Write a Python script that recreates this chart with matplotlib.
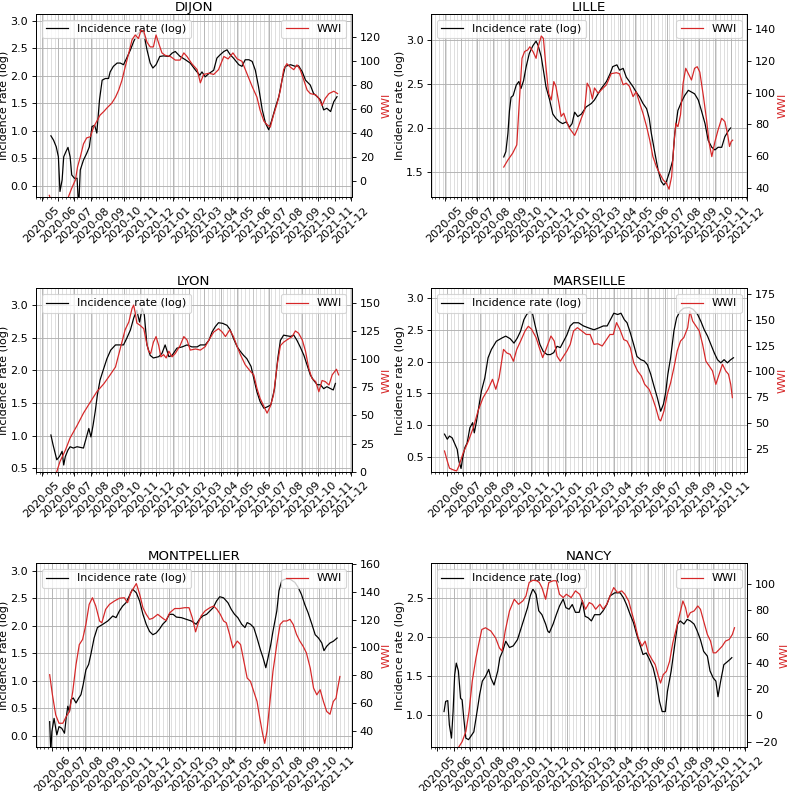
import matplotlib
matplotlib.use("Agg")
import matplotlib.pyplot as plt
import matplotlib.dates as mdates
from matplotlib.ticker import MaxNLocator
import pandas as pd

# day counts are relative to this date
START = pd.Timestamp("2020-05-01")

# %% DIJON
DIJON_INC_DAY = [17, 22, 27, 31, 34, 38, 41, 45, 49, 53, 56, 61, 66, 69, 72, 78, 84, 89, 94, 99,
                 103, 108, 113, 119, 125, 128, 134, 141, 147, 153, 159, 166, 172, 178, 184, 191, 197, 203, 208, 214,
                 221, 228, 238, 244, 250, 259, 269, 278, 288, 296, 300, 306, 313, 322, 328, 334, 341, 347, 353, 359,
                 369, 375, 381, 388, 394, 400, 406, 413, 419, 425, 431, 438, 444, 450, 456, 466, 475, 481, 488, 494,
                 503, 509, 516, 522, 528, 534, 541, 547, 553]
DIJON_INC = [0.91, 0.83, 0.71, 0.53, -0.1, 0.11, 0.53, 0.62, 0.70, 0.53, 0.2, 0.14, 0.14, -0.4, 0.29, 0.47, 0.59, 0.71, 1.08, 1.1,
             0.96, 1.56, 1.92, 1.95, 1.95, 2.07, 2.17, 2.23, 2.23, 2.2, 2.32, 2.47, 2.62, 2.74, 2.8, 2.77, 2.47, 2.23, 2.14, 2.2,
             2.35, 2.36, 2.35, 2.41, 2.44, 2.35, 2.29, 2.23, 2.1, 2.01, 2.07, 1.98, 2.04, 2.1, 2.32, 2.38, 2.44, 2.47, 2.38, 2.32,
             2.2, 2.17, 2.29, 2.29, 2.26, 2.1, 1.8, 1.38, 1.14, 1.02, 1.2, 1.44, 1.62, 1.92, 2.17, 2.2, 2.17, 2.18, 2.07, 1.92,
             1.83, 1.68, 1.62, 1.56, 1.38, 1.41, 1.35, 1.53, 1.62]
DIJON_WWI_DAY = [14, 17, 45, 50, 56, 63, 67, 72, 78, 84, 91, 97, 103, 109, 116, 122, 131, 138, 144, 150,
                 156, 163, 169, 175, 181, 186, 191, 197, 203, 209, 214, 219, 225, 231, 241, 250, 259, 266, 272, 281,
                 291, 297, 303, 313, 322, 331, 341, 349, 358, 366, 375, 384, 394, 403, 409, 416, 422, 428, 434, 441,
                 447, 453, 459, 466, 472, 478, 484, 491, 497, 503, 513, 519, 525, 531, 538, 547, 554]
DIJON_WWI = [-12, -16, -20, -13, -6, 1, 12, 20, 31, 36, 37, 45, 50, 55, 58, 61, 65, 70, 76, 84,
             95, 107, 118, 122, 119, 126, 125, 116, 112, 112, 122, 115, 107, 105, 104, 101, 101, 107, 104, 98,
             93, 82, 89, 90, 89, 93, 104, 102, 107, 102, 100, 90, 79, 70, 59, 50, 47, 45, 55, 65,
             76, 93, 98, 95, 93, 97, 93, 84, 76, 73, 72, 69, 63, 69, 73, 75, 73]

# %% LILLE
LILLE_INC_DAY = [113, 117, 121, 124, 127, 131, 137, 142, 146, 151, 156, 162, 169, 175, 179, 185, 189, 194, 201, 207,
                 213, 220, 226, 233, 239, 244, 249, 255, 262, 271, 281, 287, 294, 300, 310, 317, 322, 330, 335, 342,
                 348, 354, 361, 367, 374, 380, 387, 392, 396, 403, 409, 415, 420, 425, 432, 437, 441, 447, 454, 460,
                 467, 473, 479, 486, 492, 499, 505, 512, 518, 524, 531, 537, 544, 548]
LILLE_INC = [1.67, 1.73, 1.94, 2.2, 2.35, 2.37, 2.49, 2.53, 2.45, 2.54, 2.7, 2.85, 2.94, 2.99, 2.94, 2.81, 2.66, 2.47, 2.32, 2.16,
             2.11, 2.07, 2.05, 2.07, 2.01, 2.05, 2.18, 2.13, 2.16, 2.24, 2.28, 2.32, 2.39, 2.45, 2.53, 2.62, 2.70, 2.72, 2.66, 2.68,
             2.58, 2.53, 2.47, 2.41, 2.35, 2.28, 2.22, 2.11, 1.94, 1.71, 1.52, 1.39, 1.35, 1.39, 1.52, 1.63, 1.94, 2.2, 2.3, 2.37,
             2.43, 2.41, 2.39, 2.32, 2.2, 2.05, 1.86, 1.78, 1.75, 1.78, 1.78, 1.9, 1.97, 2.0]
LILLE_WWI_DAY = [113, 121, 130, 138, 143, 148, 153, 159, 163, 169, 175, 179, 185, 189, 194, 199, 204, 209, 213, 219,
                 223, 228, 233, 239, 249, 255, 262, 268, 273, 278, 283, 287, 294, 300, 310, 319, 329, 335, 342, 348,
                 354, 361, 367, 374, 380, 387, 393, 399, 406, 412, 419, 425, 430, 435, 439, 443, 447, 452, 457, 462,
                 467, 473, 479, 484, 489, 496, 502, 507, 512, 518, 524, 531, 537, 542, 546, 549, 552]
LILLE_WWI = [53, 57.5, 61.7, 67, 95, 121.7, 126, 127, 129, 126, 121.7, 129, 135.8, 134.3, 116, 99.6, 95.4, 107, 104, 93,
             85, 87, 82, 77.5, 73, 77.5, 84, 89, 106, 103, 96, 103, 99.6, 101.7, 105, 112, 112.6, 112, 105, 106,
             104, 97.5, 100.6, 93, 87, 78.5, 70, 59.6, 53, 49, 44.8, 42.7, 39, 47, 66, 80.6, 78.5, 86, 106, 115.4,
             112, 108, 115.4, 116.4, 113, 97.5, 82.7, 68, 59.6, 69, 76.4, 83.8, 81.7, 74.3, 66, 69, 70]

# %% LYON
LYON_INC_DAY = [17, 21, 25, 28, 33, 38, 41, 44, 49, 53, 59, 66, 72, 78, 83, 88, 92, 96, 100, 104,
                109, 116, 122, 129, 138, 147, 153, 159, 166, 172, 178, 183, 188, 192, 197, 203, 209, 219, 225, 231,
                238, 244, 253, 263, 272, 281, 291, 297, 306, 313, 319, 325, 331, 339, 347, 353, 359, 366, 372, 378,
                384, 392, 397, 403, 409, 416, 422, 429, 436, 442, 447, 453, 459, 466, 472, 478, 484, 491, 497, 503,
                509, 516, 522, 528, 534, 541, 546, 550]
LYON_INC = [1.01, 0.86, 0.73, 0.63, 0.68, 0.76, 0.55, 0.68, 0.78, 0.83, 0.81, 0.83, 0.82, 0.81, 0.96, 1.11, 0.98, 1.16, 1.37, 1.62,
            1.85, 2.03, 2.18, 2.31, 2.39, 2.39, 2.39, 2.49, 2.62, 2.8, 2.92, 2.74, 2.95, 2.85, 2.39, 2.23, 2.19, 2.21, 2.26, 2.39,
            2.21, 2.23, 2.34, 2.36, 2.39, 2.36, 2.36, 2.39, 2.39, 2.46, 2.59, 2.67, 2.73, 2.72, 2.69, 2.62, 2.49, 2.36, 2.29, 2.23,
            2.18, 2.06, 1.88, 1.67, 1.52, 1.42, 1.44, 1.47, 1.72, 2.18, 2.46, 2.54, 2.53, 2.52, 2.54, 2.46, 2.36, 2.23, 2.08, 1.93,
            1.85, 1.78, 1.78, 1.72, 1.75, 1.72, 1.7, 1.8]
LYON_WWI_DAY = [22, 28, 34, 44, 53, 66, 78, 91, 103, 116, 128, 138, 144, 150, 156, 163, 169, 172, 175, 178,
                184, 191, 196, 200, 204, 209, 214, 219, 223, 228, 233, 238, 244, 250, 259, 266, 272, 278, 288, 297,
                306, 313, 322, 331, 338, 344, 352, 359, 366, 372, 381, 391, 397, 403, 409, 416, 422, 428, 434, 441,
                447, 453, 459, 469, 475, 481, 488, 494, 500, 506, 513, 519, 525, 531, 538, 544, 552, 556]
LYON_WWI = [-5, 0, 9, 19, 30, 41, 52, 62, 71, 78, 86, 93, 104, 115, 126, 133, 145, 148, 141, 132,
            130, 127, 115, 107, 105, 115, 120, 112, 102, 104, 101, 107, 102, 105, 112, 120, 117, 108, 109, 108,
            111, 117, 124, 127, 124, 120, 126, 120, 111, 104, 95, 89, 86, 74, 65, 58, 52, 58, 68, 95,
            112, 115, 117, 120, 125, 123, 117, 107, 92, 83, 80, 71, 81, 80, 77, 86, 91, 86]

# %% MARSEILLE
MARS_INC_DAY = [27, 32, 36, 41, 46, 50, 53, 57, 60, 64, 68, 73, 78, 81, 85, 90, 94, 100, 106, 112,
                121, 131, 138, 146, 153, 159, 165, 171, 176, 182, 187, 191, 196, 200, 206, 213, 219, 225, 231, 237,
                243, 249, 255, 261, 270, 279, 288, 298, 307, 315, 322, 328, 334, 341, 347, 353, 358, 364, 370, 376,
                383, 389, 395, 401, 407, 413, 419, 424, 428, 432, 437, 443, 448, 454, 461, 471, 478, 486, 492, 498,
                504, 510, 516, 522, 528, 534, 540, 546, 551]
MARS_INC = [0.86, 0.78, 0.83, 0.80, 0.70, 0.62, 0.44, 0.32, 0.49, 0.65, 0.72, 0.96, 1.04, 0.88, 1.06, 1.33, 1.54, 1.74, 2.06, 2.19,
            2.32, 2.37, 2.40, 2.36, 2.29, 2.37, 2.48, 2.66, 2.74, 2.79, 2.74, 2.58, 2.40, 2.27, 2.16, 2.11, 2.11, 2.14, 2.24, 2.22,
            2.32, 2.42, 2.56, 2.61, 2.61, 2.56, 2.53, 2.50, 2.53, 2.56, 2.56, 2.66, 2.76, 2.74, 2.76, 2.66, 2.61, 2.45, 2.27, 2.08,
            2.03, 2.01, 1.95, 1.80, 1.61, 1.43, 1.22, 1.33, 1.51, 1.80, 2.06, 2.48, 2.69, 2.79, 2.84, 2.85, 2.82, 2.74, 2.63, 2.50,
            2.40, 2.27, 2.14, 2.03, 1.98, 2.03, 1.98, 2.03, 2.06]
MARS_WWI_DAY = [27, 32, 36, 43, 49, 53, 61, 70, 79, 88, 97, 106, 114, 120, 126, 134, 140, 146, 152, 158,
                165, 173, 179, 185, 193, 199, 205, 211, 220, 226, 231, 237, 243, 249, 255, 261, 268, 276, 284, 291,
                298, 305, 313, 319, 327, 333, 339, 345, 352, 358, 364, 370, 377, 384, 390, 398, 404, 410, 416, 419,
                425, 431, 437, 443, 449, 455, 461, 468, 472, 477, 483, 489, 495, 501, 507, 513, 519, 525, 531, 537,
                542, 546, 549]
MARS_WWI = [22.7, 13, 6, 4.3, 3.3, 8, 21, 32, 45, 62, 74.6, 82.7, 92.4, 82.7, 94, 121.5, 118, 116.7, 110, 121.5,
            129.6, 139.4, 144, 141, 133, 123, 113.5, 121.5, 134.5, 129.6, 115, 110, 115, 120, 126.4, 139.4, 142.6, 139.4, 136, 136,
            126.4, 127, 124.8, 129.6, 136, 136, 147.5, 141, 131, 129.6, 123, 108.6, 100.5, 95.6, 87.5, 82.7, 74.6, 65, 53.5, 52,
            61.6, 77.8, 89, 103.7, 120, 129.6, 133, 142.6, 158.8, 149, 144.2, 139.4, 126.4, 110, 105.4, 100.5, 87.5, 97.3, 107, 100.5,
            97.3, 87.5, 74.6]

# %% MONTPELLIER
MONT_INC_DAY = [27, 29, 31, 35, 40, 44, 49, 54, 57, 60, 63, 66, 70, 75, 80, 84, 88, 93, 98, 102,
                108, 114, 124, 133, 142, 148, 154, 160, 166, 172, 178, 185, 191, 197, 203, 209, 215, 221, 227, 233,
                239, 245, 252, 258, 267, 276, 285, 294, 300, 306, 313, 319, 325, 331, 337, 344, 352, 358, 364, 370,
                377, 383, 387, 393, 399, 405, 411, 416, 421, 425, 430, 434, 441, 445, 450, 456, 465, 474, 480, 486,
                492, 498, 505, 511, 517, 523, 527, 532, 538, 544, 551]
MONT_INC = [0.26, -0.3, 0.08, 0.32, 0.02, 0.17, 0.14, 0.05, 0.32, 0.54, 0.44, 0.66, 0.69, 0.6, 0.69, 0.75, 0.93, 1.2, 1.3, 1.48,
            1.78, 1.97, 2.03, 2.09, 2.18, 2.15, 2.27, 2.36, 2.42, 2.54, 2.67, 2.6, 2.45, 2.21, 2.03, 1.9, 1.84, 1.87, 1.94, 2.03,
            2.09, 2.21, 2.21, 2.16, 2.15, 2.12, 2.09, 2.03, 2.12, 2.18, 2.21, 2.27, 2.33, 2.45, 2.53, 2.51, 2.42, 2.3, 2.21, 2.15,
            2.03, 1.97, 2.06, 2.03, 1.97, 1.78, 1.57, 1.42, 1.24, 1.42, 1.66, 1.9, 2.27, 2.64, 2.82, 2.85, 2.85, 2.79, 2.7, 2.57,
            2.39, 2.24, 2.03, 1.84, 1.78, 1.69, 1.55, 1.63, 1.69, 1.72, 1.78]
MONT_WWI_DAY = [27, 32, 38, 44, 51, 57, 63, 69, 75, 81, 87, 93, 99, 105, 111, 118, 122, 129, 136, 145,
                154, 163, 169, 175, 185, 191, 197, 203, 209, 215, 224, 233, 239, 246, 255, 264, 273, 281, 287, 293,
                297, 303, 310, 319, 326, 332, 338, 344, 349, 355, 361, 369, 375, 381, 387, 393, 399, 405, 410, 415,
                419, 423, 428, 434, 441, 447, 453, 459, 465, 471, 477, 483, 489, 495, 502, 508, 514, 520, 526, 532,
                538, 544, 549, 551, 556]
MONT_WWI = [80.3, 65.8, 51.3, 45.3, 45.3, 50, 53.8, 68, 87.6, 102, 105.7, 116.5, 131, 135.8, 129.8, 119, 117.7, 127.4, 131, 133.4,
            135.4, 135.8, 132.2, 139.5, 146, 138.3, 128.6, 123.8, 120.2, 121, 123.8, 121, 119.4, 125, 128, 128, 128.6, 128.6, 121.4, 111.2,
            116.5, 122.6, 126.2, 128.6, 129.8, 127.4, 123.8, 119, 117.7, 109.3, 99.6, 104.5, 102, 90, 77.9, 75.5, 68.2, 61, 49, 38,
            30.8, 39.3, 58.6, 82.7, 102, 116.5, 119, 119, 120.2, 116.5, 109.3, 104.5, 100.8, 96, 85, 70.7, 65.8, 69.5, 61, 53.8,
            51.8, 61, 63.4, 68.2, 79]

# %% NANCY
NANCY_INC_DAY = [13, 16, 20, 23, 27, 30, 33, 36, 40, 44, 47, 50, 54, 59, 63, 69, 76, 80, 85, 91,
                 97, 101, 107, 114, 118, 123, 129, 136, 143, 151, 158, 164, 170, 175, 180, 186, 191, 197, 204, 208,
                 211, 218, 224, 230, 237, 242, 248, 254, 260, 267, 273, 278, 284, 290, 296, 306, 312, 319, 325, 334,
                 344, 350, 356, 363, 369, 375, 382, 387, 393, 399, 406, 412, 418, 423, 429, 433, 440, 446, 452, 457,
                 464, 470, 476, 483, 489, 495, 501, 508, 513, 519, 524, 528, 533, 539, 546, 551, 554]
NANCY_INC = [1.05, 1.18, 1.19, 0.88, 0.71, 1.05, 1.52, 1.67, 1.57, 1.22, 1.2, 0.97, 0.71, 0.69, 0.73, 0.79, 1.09, 1.27, 1.44, 1.5,
             1.59, 1.48, 1.39, 1.57, 1.74, 1.82, 1.95, 1.87, 1.89, 1.97, 2.12, 2.25, 2.38, 2.53, 2.62, 2.55, 2.34, 2.29, 2.17, 2.08,
             2.06, 2.17, 2.29, 2.4, 2.49, 2.38, 2.36, 2.42, 2.32, 2.32, 2.47, 2.27, 2.25, 2.21, 2.29, 2.29, 2.34, 2.42, 2.53, 2.57,
             2.57, 2.51, 2.42, 2.29, 2.19, 2.04, 1.89, 1.78, 1.8, 1.72, 1.61, 1.44, 1.18, 1.05, 1.05, 1.31, 1.57, 1.87, 2.17, 2.21,
             2.17, 2.23, 2.21, 2.17, 2.08, 1.97, 1.82, 1.76, 1.57, 1.48, 1.44, 1.24, 1.44, 1.65, 1.69, 1.72, 1.74]
NANCY_WWI_DAY = [41, 47, 54, 60, 66, 73, 78, 84, 91, 101, 110, 117, 122, 128, 136, 145, 153, 161, 167, 173,
                 180, 187, 192, 197, 204, 210, 218, 224, 230, 237, 243, 252, 260, 268, 274, 279, 286, 292, 298, 306,
                 312, 319, 325, 332, 339, 347, 353, 360, 366, 372, 378, 385, 391, 397, 404, 410, 416, 420, 425, 431,
                 437, 443, 450, 456, 462, 467, 471, 476, 483, 490, 495, 501, 508, 514, 519, 524, 530, 536, 542, 549,
                 555, 559]
NANCY_WWI = [-23.8, -20, -12.3, 3, 26, 43.8, 54, 65.5, 66.8, 64.3, 59, 51.5, 49, 64.3, 79.6, 88.5, 84.7, 87.2, 91, 101.3,
             103, 102.6, 101.3, 97.4, 88.5, 101.3, 102.6, 102.6, 92.3, 89.8, 92.3, 89.8, 94.9, 92.3, 86, 80.9, 86, 84.7, 80.9, 84.7,
             80.9, 84.7, 91, 97.4, 93.6, 94.9, 92.3, 87.2, 78.3, 69.4, 59.2, 52.8, 56.6, 47.7, 42.6, 38.7, 29.8, 24.7, 31.1, 33.6,
             41.3, 55.3, 66.8, 77, 87.2, 82.1, 74.5, 78.3, 79.6, 83.4, 80.9, 71.9, 61.7, 56.6, 47.7, 47.7, 50.2, 52.8, 56.6, 57.9,
             61.7, 66.8]

CITIES = ["DIJON", "LILLE", "LYON", "MARSEILLE", "MONTPELLIER", "NANCY"]
SERIES = [
    (DIJON_INC_DAY, DIJON_INC, DIJON_WWI_DAY, DIJON_WWI),
    (LILLE_INC_DAY, LILLE_INC, LILLE_WWI_DAY, LILLE_WWI),
    (LYON_INC_DAY, LYON_INC, LYON_WWI_DAY, LYON_WWI),
    (MARS_INC_DAY, MARS_INC, MARS_WWI_DAY, MARS_WWI),
    (MONT_INC_DAY, MONT_INC, MONT_WWI_DAY, MONT_WWI),
    (NANCY_INC_DAY, NANCY_INC, NANCY_WWI_DAY, NANCY_WWI),
]

# axis ranges as shown in the figure
XLIMS = [("2020-04-20", "2021-12-03"), ("2020-04-05", "2021-12-02"), ("2020-04-20", "2021-12-03"),
         ("2020-05-04", "2021-11-28"), ("2020-05-03", "2021-11-30"), ("2020-04-20", "2021-12-05")]
YLIMS_INC = [(-0.205, 3.12), (1.21, 3.30), (0.448, 3.256), (0.27, 3.15), (-0.195, 3.135), (0.60, 2.946)]
YLIMS_WWI = [(-13.6, 139.5), (33.9, 149.7), (0, 162.8), (2.6, 180.8), (28.4, 160.5), (-23.8, 115.8)]

RED = "tab:red"
DPI = 80


def to_dates(days):
    return START + pd.to_timedelta(days, unit="D")


# %%
fig = plt.figure(figsize=(787 / DPI, 791 / DPI), dpi=DPI)

lefts = [0.0457, 0.548]
bottoms = [0.7506, 0.4037, 0.0560]
w, h = 0.4015, 0.2317

for i, (name, (inc_d, inc, wwi_d, wwi)) in enumerate(zip(CITIES, SERIES)):
    ax1 = fig.add_axes([lefts[i % 2], bottoms[i // 2], w, h])
    ax2 = ax1.twinx()

    ax1.plot(to_dates(inc_d), inc, color="black", lw=1.1, label="Incidence rate (log)")
    ax2.plot(to_dates(wwi_d), wwi, color=RED, lw=1.1, label="WWI")

    ax1.set_xlim(pd.Timestamp(XLIMS[i][0]), pd.Timestamp(XLIMS[i][1]))
    ax1.set_ylim(*YLIMS_INC[i])
    ax2.set_ylim(*YLIMS_WWI[i])

    ax1.xaxis.set_major_locator(mdates.MonthLocator())
    ax1.xaxis.set_major_formatter(mdates.DateFormatter("%Y-%m"))
    ax1.xaxis.set_minor_locator(mdates.WeekdayLocator(byweekday=mdates.MO))
    ax1.tick_params(axis="x", labelrotation=45)
    ax1.yaxis.set_major_locator(MaxNLocator(nbins=8, steps=[1, 2, 2.5, 5, 10]))
    ax2.yaxis.set_major_locator(MaxNLocator(nbins=8, steps=[1, 2, 2.5, 5, 10]))

    ax1.grid(True, which="major", color="#b0b0b0", lw=0.8)
    ax1.grid(True, which="minor", axis="x", color="#d0d0d0", lw=0.6)

    ax1.set_ylabel("Incidence rate (log)", labelpad=1)
    ax2.set_ylabel("WWI", color=RED, labelpad=1)
    ax1.set_title(name, pad=3)
    ax1.legend(loc="upper left")
    ax2.legend(loc="upper right")

fig.savefig("out.png", dpi=DPI)
